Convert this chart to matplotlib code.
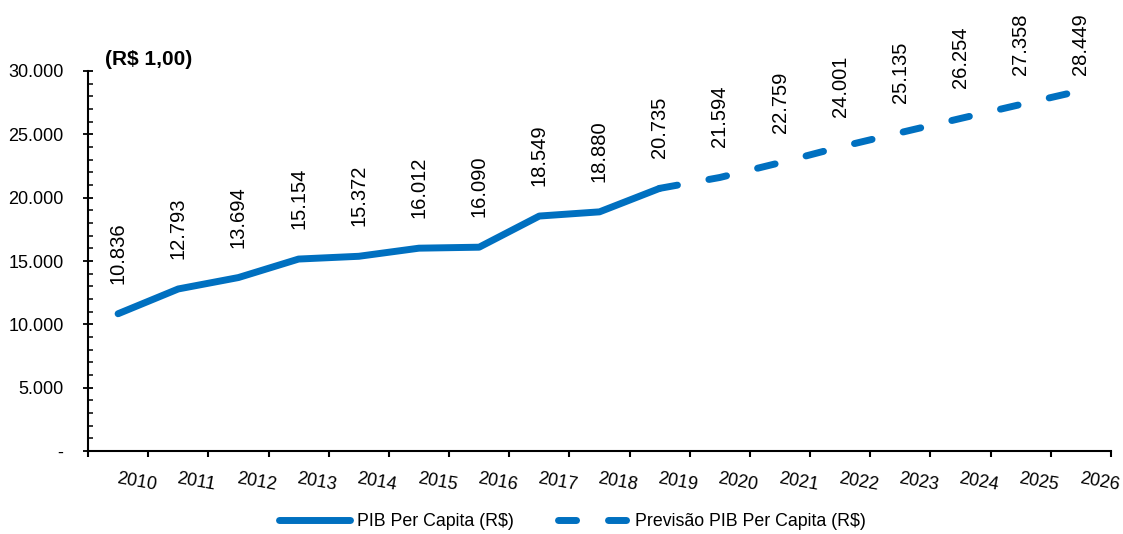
import matplotlib
matplotlib.use("Agg")
import matplotlib.pyplot as plt
import numpy as np
from matplotlib.ticker import FuncFormatter, MultipleLocator

plt.rcParams["font.family"] = ["Liberation Sans", "DejaVu Sans"]

years = [str(y) for y in range(2010, 2027)]
pib = [10836, 12793, 13694, 15154, 15372, 16012, 16090, 18549, 18880, 20735]
previsao = [20735, 21594, 22759, 24001, 25135, 26254, 27358, 28449]
labels_values = pib + previsao[1:]

BLUE = "#0070C0"


def _thousands(v, _pos=None):
    if abs(v) < 1e-9:
        return "-"
    return "{:,.0f}".format(v).replace(",", ".")


fig = plt.figure(figsize=(11.23, 5.34), dpi=100)
ax = fig.add_axes([88 / 1123, 83 / 534, 1023 / 1123, 380 / 534])

x = np.arange(len(years))
n_hist = len(pib)
line_hist, = ax.plot(x[:n_hist], pib, color=BLUE, lw=5, solid_capstyle="round",
                     solid_joinstyle="round", label="PIB Per Capita (R$)")
line_prev, = ax.plot(x[n_hist - 1:], previsao, color=BLUE, lw=5, dashes=(2.6, 4.6),
                     dash_capstyle="round", label="Previsão PIB Per Capita (R$)")

ax.set_xlim(-0.5, len(years) - 0.5)
ax.set_ylim(0, 30000)

# data labels, pushed down when they would leave the plot area (as Excel does)
offset_data = 30 / 380 * 30000
ceiling = 29700
for xi, v in zip(x, labels_values):
    ax.text(xi, min(v + offset_data, ceiling), _thousands(v), rotation=90,
            ha="center", va="bottom", fontsize=14.5, clip_on=False)

# y axis
ax.yaxis.set_major_locator(MultipleLocator(5000))
ax.yaxis.set_minor_locator(MultipleLocator(1000))
ax.yaxis.set_major_formatter(FuncFormatter(_thousands))
ax.tick_params(axis="y", which="major", direction="inout", length=7.2, width=1.3,
               pad=14, labelsize=13)
ax.tick_params(axis="y", which="minor", direction="in", length=3.6, width=1.1)

# x axis: labels at category centres, tick marks at boundaries
ax.set_xticks(x)
ax.set_xticklabels(years)
ax.set_xticks(np.arange(-0.5, len(years), 1), minor=True)
ax.tick_params(axis="x", which="major", length=0, pad=14, labelsize=13)
ax.tick_params(axis="x", which="minor", direction="out", length=4.3, width=1.5)
plt.setp(ax.get_xticklabels(), rotation=-10, ha="left", va="top", rotation_mode="anchor")

for side in ("top", "right"):
    ax.spines[side].set_visible(False)
for side in ("left", "bottom"):
    ax.spines[side].set_linewidth(1.5)
    ax.spines[side].set_color("black")

ax.text(0.0166, 1.029, "(R$ 1,00)", transform=ax.transAxes, fontsize=15,
        fontweight="bold", ha="left", va="center")

fig.legend(handles=[line_hist, line_prev], loc="center", bbox_to_anchor=(0.51, 12 / 534),
           ncol=2, frameon=False, fontsize=12.8, handlelength=4.0, handletextpad=0.35,
           columnspacing=2.5)

fig.savefig("out.png", dpi=100)
plt.close(fig)
